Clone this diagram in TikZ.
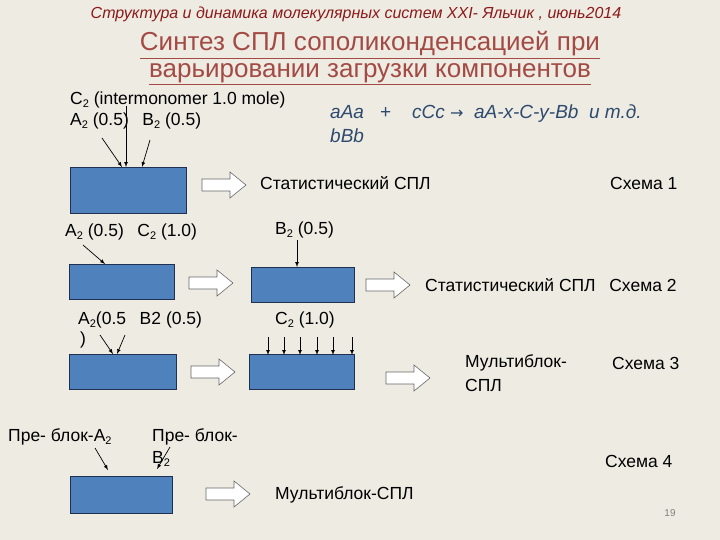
\documentclass[tikz,border=0pt]{standalone}
\usepackage{fontspec}
\setmainfont{Liberation Sans}
\newfontfamily\djv{DejaVu Sans}
\definecolor{bg}{HTML}{EEEBE2}
\definecolor{boxf}{HTML}{4F81BD}
\definecolor{boxd}{HTML}{1F3050}
\definecolor{ttl}{HTML}{A34A45}
\definecolor{hdr}{HTML}{8B1A1A}
\definecolor{frm}{HTML}{2E4A6E}
\newcommand{\sbs}[1]{\raisebox{-0.35ex}{\fontsize{11}{12}\selectfont #1}}
\newcommand{\barr}[2]{\draw[draw=black!60,fill=white,line width=0.6pt,shift={(#1,#2)}] (-22,-6) -- (6,-6) -- (6,-13) -- (22,0) -- (6,13) -- (6,6) -- (-22,6) -- cycle;}
\begin{document}
\begin{tikzpicture}[x=1pt,y=-1pt,
  blk/.style={draw=boxd,fill=boxf,line width=0.8pt,inner sep=0pt},
  lbl/.style={font=\fontsize{17.5}{19}\selectfont,inner sep=0pt,anchor=west},
  pa/.style={-latex,line width=0.7pt}]
\fill[bg] (0,0) rectangle (720,540);
\useasboundingbox (0,0) rectangle (720,540);
\node[font=\itshape\fontsize{16}{18}\selectfont,text=hdr] (hd) at (356,14) {Структура и динамика молекулярных систем XXI-  Яльчик , июнь2014};
\node[font=\fontsize{26}{28}\selectfont,text=ttl] (t1) at (370,45) {\underline{Синтез СПЛ сополиконденсацией при}};
\node[font=\fontsize{26}{28}\selectfont,text=ttl] (t2) at (370,74) {\underline{варьировании загрузки  компонентов}};
% row 1
\node[lbl] (c2) at (70,100) {C\sbs{2} (intermonomer 1.0 mole)};
\node[lbl] (ab) at (70,121) {A\sbs{2} (0.5)\phantom{x} B\sbs{2} (0.5)};
\node[lbl,font=\itshape\fontsize{19}{21}\selectfont,text=frm] (fm) at (330,114) {aAa \ \ + \ \ \ cCc {\djv\upshape\fontsize{16}{18}\selectfont →} \ aA-x-C-y-Bb \ и т.д.};
\node[lbl,font=\itshape\fontsize{19}{21}\selectfont,text=frm] (fm2) at (330,136) {bBb};
\node[blk,minimum width=116pt,minimum height=46pt] (b1) at (128,190) {};
\coordinate (a1s) at (102,138); \coordinate (a1e) at (122,167);
\coordinate (c1s) at (126,106); \coordinate (c1e) at (126,167);
\coordinate (b1s) at (150,140); \coordinate (b1e) at (142,167);
\draw[pa] (a1s) -- (a1e); \draw[pa] (c1s) -- (c1e); \draw[pa] (b1s) -- (b1e);
\barr{224}{185}
\node[lbl] (s1) at (260,183) {Статистический СПЛ};
\node[lbl] (sc1) at (610,183) {Схема 1};
% row 2
\node[lbl] (l2a) at (65,232) {A\sbs{2} (0.5)\phantom{x} C\sbs{2} (1.0)};
\node[lbl] (l2b) at (275,230) {B\sbs{2} (0.5)};
\node[blk,minimum width=105pt,minimum height=35pt] (b2) at (122,282) {};
\barr{211}{283}
\node[blk,minimum width=103pt,minimum height=35pt] (b3) at (303,285) {};
\barr{388}{285}
\coordinate (a2s) at (83,245); \coordinate (a2e) at (105,264);
\coordinate (b2s) at (297,240); \coordinate (b2e) at (297,267);
\draw[pa] (a2s) -- (a2e); \draw[pa] (b2s) -- (b2e);
\node[lbl] (s2) at (425,285) {Статистический СПЛ\phantom{x} Схема 2};
% row 3
\node[lbl] (l3a) at (78,320) {A\sbs{2}(0.5\phantom{x} B2 (0.5)};
\node[lbl] (l3p) at (80,340) {)};
\node[lbl] (l3c) at (275,320) {C\sbs{2} (1.0)};
\node[blk,minimum width=107pt,minimum height=35pt] (b4) at (123,372) {};
\barr{213}{372}
\node[blk,minimum width=105pt,minimum height=35pt] (b5) at (302,372) {};
\barr{408}{378}
\draw[pa] (100,335) -- (113,354);
\draw[pa] (125,335) -- (117,354);
\foreach \x in {268,284,300,317,333,352} \draw[pa] (\x,337) -- (\x,355);
\node[lbl] (m3) at (465,363) {Мультиблок-};
\node[lbl] (m3b) at (465,385) {СПЛ};
\node[lbl] (sc3) at (612,363) {Схема 3};
% row 4
\node[lbl] (p1) at (8,437) {Пре- блок-A\sbs{2}};
\node[lbl] (p2) at (152,437) {Пре- блок-};
\node[lbl] (p2b) at (152,459) {B\sbs{2}};
\node[blk,minimum width=102pt,minimum height=37pt] (b6) at (121,495) {};
\draw[pa] (95,448) -- (108,470);
\draw[pa] (170,447) -- (157,469);
\barr{228}{494}
\node[lbl] (m4) at (275,495) {Мультиблок-СПЛ};
\node[lbl] (sc4) at (605,461) {Схема 4};
\node[font=\fontsize{10}{11}\selectfont,text=black!50] (pg) at (670,513) {19};
\end{tikzpicture}
\end{document}
